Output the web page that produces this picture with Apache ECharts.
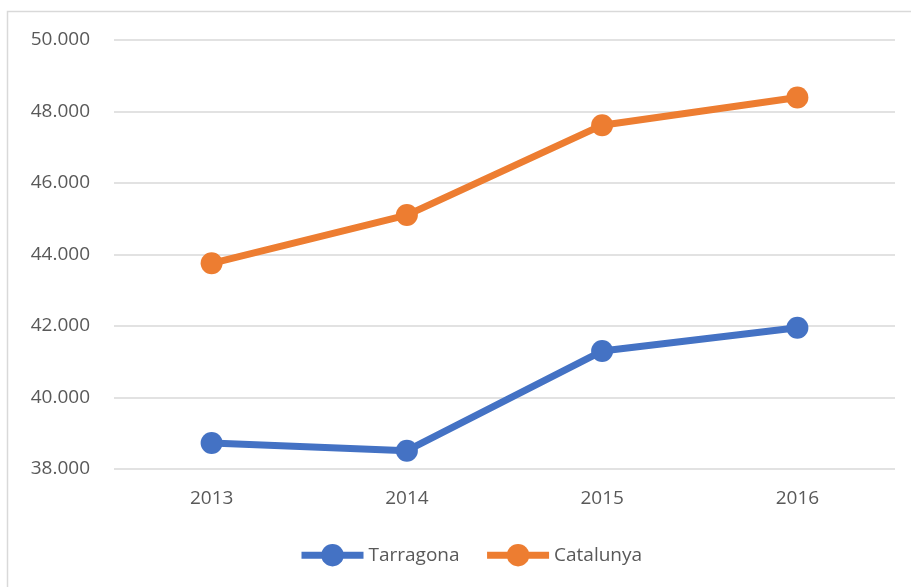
<!DOCTYPE html>
<html>
<head>
<meta charset="utf-8">
<script src="https://cdn.jsdelivr.net/npm/echarts@6/dist/echarts.min.js"></script>
<style>
  html, body { margin: 0; padding: 0; background: #fff; }
  #main { width: 911px; height: 587px; }
</style>
</head>
<body>
<div id="main"></div>
<script>
// datos
var years = ['2013', '2014', '2015', '2016'];
var tarragona = [38726, 38511, 41300, 41950];
var catalunya = [43754, 45103, 47617, 48391];

var chart = echarts.init(document.getElementById('main'));

var font = 'Open Sans';

var option = {
  animation: false,
  graphic: [{
    type: 'rect',
    shape: { x: 7.5, y: 11.5, width: 1000, height: 1000 },
    style: { fill: 'none', stroke: '#d9d9d9', lineWidth: 1.5 }
  }],
  grid: { left: 114, right: 16, top: 40, bottom: 118 },
  legend: {
    top: 539,
    left: 293,
    itemWidth: 62,
    itemHeight: 28,
    itemGap: 24,
    lineStyle: { width: 7 },
    textStyle: { fontFamily: font, fontSize: 19, color: '#595959' },
    data: ['Tarragona', 'Catalunya']
  },
  xAxis: {
    type: 'category',
    data: years,
    axisLine: { show: false },
    axisTick: { show: false },
    axisLabel: { fontFamily: font, fontSize: 19, color: '#595959', margin: 20 }
  },
  yAxis: {
    type: 'value',
    min: 38000,
    max: 50000,
    interval: 2000,
    axisLine: { show: false },
    axisTick: { show: false },
    splitLine: { lineStyle: { color: '#d9d9d9', width: 1.5 } },
    axisLabel: {
      fontFamily: font, fontSize: 19, color: '#595959', margin: 24,
      formatter: function (v) { return (v / 1000).toFixed(3); }
    }
  },
  series: [
    {
      name: 'Tarragona',
      type: 'line',
      data: tarragona,
      symbol: 'circle',
      symbolSize: 22,
      lineStyle: { width: 7, color: '#4472C4' },
      itemStyle: { color: '#4472C4' }
    },
    {
      name: 'Catalunya',
      type: 'line',
      data: catalunya,
      symbol: 'circle',
      symbolSize: 22,
      lineStyle: { width: 7, color: '#ED7D31' },
      itemStyle: { color: '#ED7D31' }
    }
  ]
};

chart.setOption(option);
</script>
</body>
</html>
